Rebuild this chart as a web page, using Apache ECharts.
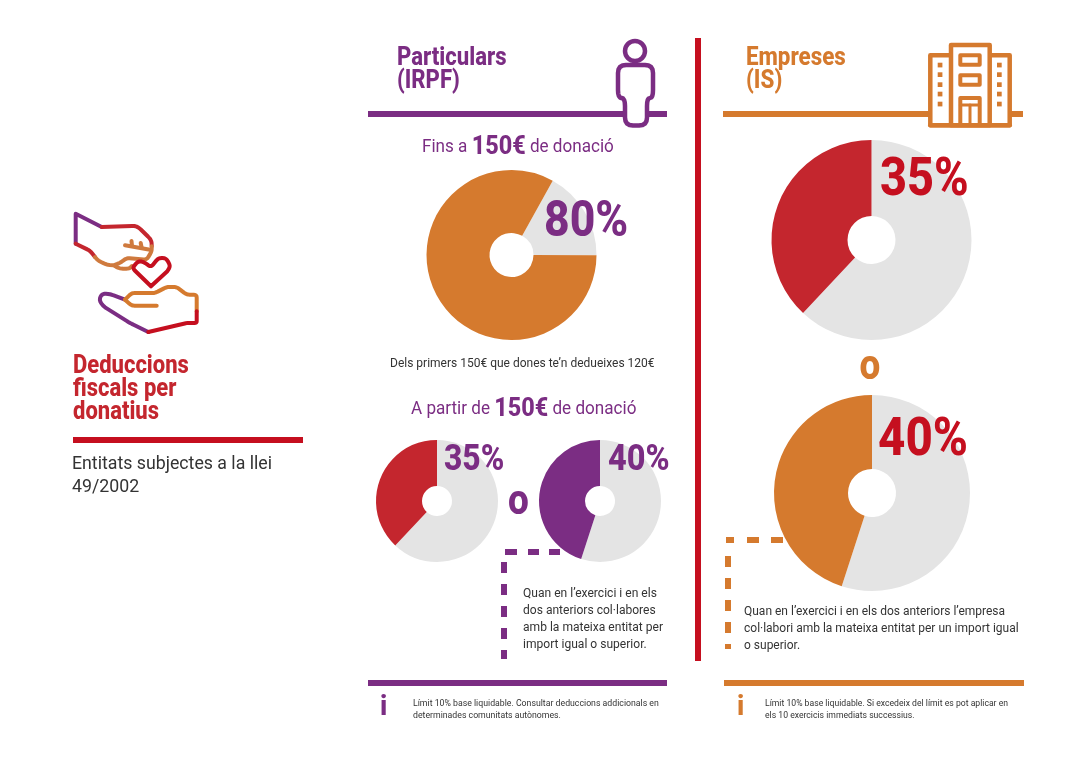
<!DOCTYPE html>
<html>
<head>
<meta charset="utf-8">
<title>Deduccions fiscals per donatius</title>
<script src="https://cdn.jsdelivr.net/npm/echarts@6/dist/echarts.min.js"></script>
<style>
  html, body { margin: 0; padding: 0; background: #fff; }
  #main { width: 1090px; height: 771px; }
</style>
</head>
<body>
<div id="main"></div>
<script>
let purple = '#7b2d83'
let orange = '#d57a2e'
let red = '#c4262e'
let deepRed = '#c50f1f'
let grey = '#e4e4e4'
let ink = '#333333'
let font = 'Roboto'

// pie shares as drawn (the picture's wedges are a bit off from their labels)
let pieLabels = ['80%', '35%', '40%', '35%', '40%']
let pieShares = [83, 38, 45, 38, 45]
let pieColors = [orange, red, purple, red, orange]
let pieStarts = [61, 90, 90, 90, 90]
let pieCenters = [[511.5, 255], [437, 501], [600, 501], [871.5, 240], [872, 493]]
let pieRadius = [[22, 85], [15, 61], [15, 61], [24, 100], [24, 98]]

let pieSeries = pieShares.map((share, i) => {
  return {
    type: 'pie',
    silent: true,
    center: pieCenters[i],
    radius: pieRadius[i],
    startAngle: pieStarts[i],
    clockwise: true,
    label: { show: false },
    labelLine: { show: false },
    data: [
      { value: 100 - share, itemStyle: { color: grey } },
      { value: share, itemStyle: { color: pieColors[i] } },
    ],
  }
})

// helpers for the page furniture
let txt = (x, y, text, size, color, weight, scaleX) => ({
  type: 'text',
  x: x,
  y: y,
  scaleX: scaleX || 1,
  z: 20,
  style: {
    text: text,
    fill: color,
    font: (weight || 400) + ' ' + size + 'px ' + font,
    textVerticalAlign: 'middle',
  },
})
let rect = (x, y, w, h, color, z) => ({
  type: 'rect',
  z: z || 5,
  shape: { x: x, y: y, width: w, height: h },
  style: { fill: color },
})
let line = (pts, color, width, fill) => ({
  type: fill ? 'polygon' : 'polyline',
  z: 10,
  shape: { points: pts },
  style: {
    stroke: color,
    fill: fill || 'none',
    lineWidth: width || 4,
    lineJoin: 'round',
    lineCap: 'round',
  },
})
let rich = (x, y, a, b, c, color) => ({
  type: 'text',
  x: x,
  y: y,
  z: 20,
  scaleX: 0.9,
  style: {
    text: '{a|' + a + '}{b|' + b + '}{a|' + c + '}',
    textVerticalAlign: 'middle',
    rich: {
      a: { font: '400 19px ' + font, fill: color },
      b: { font: '800 26px ' + font, fill: color },
    },
  },
})

// round the corners of an icon outline, the icons have no sharp joins
let rounded = (pts, r, closed) => {
  let out = []
  let n = pts.length
  for (let i = 0; i < n; i++) {
    let p = pts[i]
    if (!closed && (i === 0 || i === n - 1)) {
      out.push(p)
      continue
    }
    let a = pts[(i - 1 + n) % n]
    let b = pts[(i + 1) % n]
    let la = Math.hypot(a[0] - p[0], a[1] - p[1])
    let lb = Math.hypot(b[0] - p[0], b[1] - p[1])
    let ra = Math.min(r, la / 2)
    let rb = Math.min(r, lb / 2)
    let s = [p[0] + (a[0] - p[0]) * ra / la, p[1] + (a[1] - p[1]) * ra / la]
    let e = [p[0] + (b[0] - p[0]) * rb / lb, p[1] + (b[1] - p[1]) * rb / lb]
    for (let t = 0; t <= 1.001; t += 0.25) {
      let u = 1 - t
      out.push([
        u * u * s[0] + 2 * u * t * p[0] + t * t * e[0],
        u * u * s[1] + 2 * u * t * p[1] + t * t * e[1],
      ])
    }
  }
  return out
}

let handOrange = '#cf7a3e'
let graphics = [
  // rules
  rect(368, 111, 299, 6, purple),
  rect(723, 111, 300, 6, orange),
  rect(695, 38, 6, 623, deepRed),
  rect(368, 680, 299, 6, purple),
  rect(724, 680, 300, 6, orange),
  rect(73, 437, 230, 6, deepRed),

  // left column
  txt(73, 367, 'Deduccions', 25, red, 800, 0.88),
  txt(73, 390, 'fiscals per', 25, red, 800, 0.88),
  txt(73, 413, 'donatius', 25, red, 800, 0.88),
  txt(72, 464, 'Entitats subjectes a la llei', 18, ink, 400, 0.985),
  txt(72, 487, '49/2002', 18, ink, 400, 0.985),

  // giving hand
  line([[75.7, 243.7], [75.7, 213.7], [101.7, 227]], purple),
  line(rounded([[101.7, 227], [137, 225.7], [151.5, 240], [151.7, 246.3]], 5), red),
  line(rounded([[75.7, 243.7], [90, 250.7], [95, 257]], 3), red),
  line(rounded([[95, 257], [98.3, 260.7], [106.7, 264.7], [113.3, 265.3]], 3), handOrange),
  line(rounded([[151.7, 246.3], [151.7, 251.3], [146.7, 259.7], [126.7, 258], [120, 263], [113.3, 265.3], [120, 268.7], [129.3, 268.7], [132, 266]], 3), handOrange),
  line([[125, 245.3], [150, 249.7]], handOrange),
  line([[131.5, 241], [132, 246]], handOrange),
  line([[140.7, 243], [141.7, 248]], handOrange),
  // heart
  line(rounded([[151, 286.3], [132.3, 268], [138.3, 261], [144, 262], [151, 267.3], [158.3, 258], [166, 258], [170.5, 266], [167.3, 271.3]], 3.5).concat([[151, 286.3]]), deepRed),
  // open hand
  line(rounded([[125, 299.7], [110, 294], [102, 293.5], [99, 300], [103.3, 306.3], [130, 323], [148.3, 332]], 4), purple),
  line(rounded([[125, 299.7], [131.7, 293], [155, 293], [166.7, 287], [176.7, 287], [186.7, 294.7], [196.7, 294.7], [196.7, 311.3]], 3), orange),
  line(rounded([[125, 299.7], [131.7, 305.7], [156.7, 305.7]], 3), orange),
  line(rounded([[196.7, 311.3], [196.7, 323], [186.7, 323], [148.3, 332]], 2), deepRed),

  // person
  { type: 'circle', z: 10, shape: { cx: 635, cy: 51, r: 10 }, style: { stroke: purple, fill: '#fff', lineWidth: 4.5 } },
  line(rounded([[625, 98], [618, 98], [618, 65], [653, 65], [653, 98], [647, 98], [647, 125.5], [625, 125.5]], 8, true), purple, 4.5, '#fff'),

  // building
  line([[930.3, 125.3], [930.3, 55.3], [1009.7, 55.3], [1009.7, 125.3]], orange, 4.5, '#fff'),
  line([[951, 125.3], [951, 45], [989.7, 45], [989.7, 125.3]], orange, 4.5, '#fff'),
  line([[930.3, 125.3], [1009.7, 125.3]], orange, 4.5),
  line([[960.3, 55.3], [979.7, 55.3], [979.7, 64.7], [960.3, 64.7]], orange, 4, '#fff'),
  line([[960.3, 75.3], [979.7, 75.3], [979.7, 84.7], [960.3, 84.7]], orange, 4, '#fff'),
  line([[960.3, 125], [960.3, 98], [979.7, 98], [979.7, 125]], orange, 4),
  line([[960.3, 105], [979.7, 105]], orange, 3),
  line([[970, 105], [970, 125]], orange, 3),
]

// building windows
let windowRows = [62.7, 72.3, 82.3, 91.7, 101.7]
windowRows.forEach(y => {
  graphics.push(rect(937.7, y, 4.7, 4.7, orange, 11))
  graphics.push(rect(997, y, 4.7, 4.7, orange, 11))
})

// dashed leaders
let purpleDashX = [[505, 12], [528, 11], [549, 11]]
let purpleDashY = [[562, 11], [584, 11], [606, 11], [628, 11], [650, 9]]
let orangeDashX = [[726, 8], [747, 12], [771, 12]]
let orangeDashY = [[556, 11], [578, 11], [600, 11], [622, 11], [644, 5]]
purpleDashX.forEach(d => graphics.push(rect(d[0], 549, d[1], 6, purple)))
purpleDashY.forEach(d => graphics.push(rect(501, d[0], 6, d[1], purple)))
orangeDashX.forEach(d => graphics.push(rect(d[0], 537, d[1], 6, orange)))
orangeDashY.forEach(d => graphics.push(rect(725, d[0], 6, d[1], orange)))

graphics.push(
  // headings
  txt(397, 58, 'Particulars', 26, purple, 800, 0.85),
  txt(397, 81, '(IRPF)', 26, purple, 800, 0.85),
  txt(746, 58, 'Empreses', 26, orange, 800, 0.86),
  txt(746, 81, '(IS)', 26, orange, 800, 0.86),
  rich(422, 147, 'Fins a ', '150€', ' de donació', purple),
  rich(411, 409, 'A partir de ', '150€', ' de donació', purple),
  txt(390, 364, 'Dels primers 150€ que dones te’n dedueixes 120€', 12, ink),

  // pie labels
  txt(544, 223, pieLabels[0], 50, purple, 800, 0.89),
  txt(444, 461, pieLabels[1], 37, purple, 800, 0.86),
  txt(608, 461, pieLabels[2], 37, purple, 800, 0.88),
  txt(880, 181, pieLabels[3], 54, deepRed, 800, 0.867),
  txt(878, 441, pieLabels[4], 54, deepRed, 800, 0.88),
  txt(508, 503, 'o', 42, purple, 800, 0.88),
  txt(859.5, 368, 'o', 42, orange, 800, 0.88),

  // notes
  txt(523, 594, 'Quan en l’exercici i en els', 12.5, ink, 400, 0.965),
  txt(523, 611, 'dos anteriors col·labores', 12.5, ink, 400, 0.965),
  txt(523, 628, 'amb la mateixa entitat per', 12.5, ink, 400, 0.965),
  txt(523, 645, 'import igual o superior.', 12.5, ink, 400, 0.965),
  txt(744, 612, 'Quan en l’exercici i en els dos anteriors l’empresa', 12.5, ink, 400, 0.96),
  txt(744, 629, 'col·labori amb la mateixa entitat per un import igual', 12.5, ink, 400, 0.96),
  txt(744, 646, 'o superior.', 12.5, ink, 400, 0.96),

  // footnotes
  txt(380, 708, 'i', 27, purple, 800),
  txt(737, 708, 'i', 27, orange, 800),
  txt(413, 704, 'Límit 10% base liquidable. Consultar deduccions addicionals en', 9, ink, 400, 0.97),
  txt(413, 716, 'determinades comunitats autònomes.', 9, ink, 400, 0.97),
  txt(765, 704, 'Límit 10% base liquidable. Si excedeix del límit es pot aplicar en', 9, ink, 400, 0.96),
  txt(765, 716, 'els 10 exercicis immediats successius.', 9, ink, 400, 0.96)
)

let myChart = echarts.init(document.getElementById('main'))
myChart.setOption({
  animation: false,
  backgroundColor: '#fff',
  series: pieSeries,
  graphic: { elements: graphics },
})
</script>
</body>
</html>
